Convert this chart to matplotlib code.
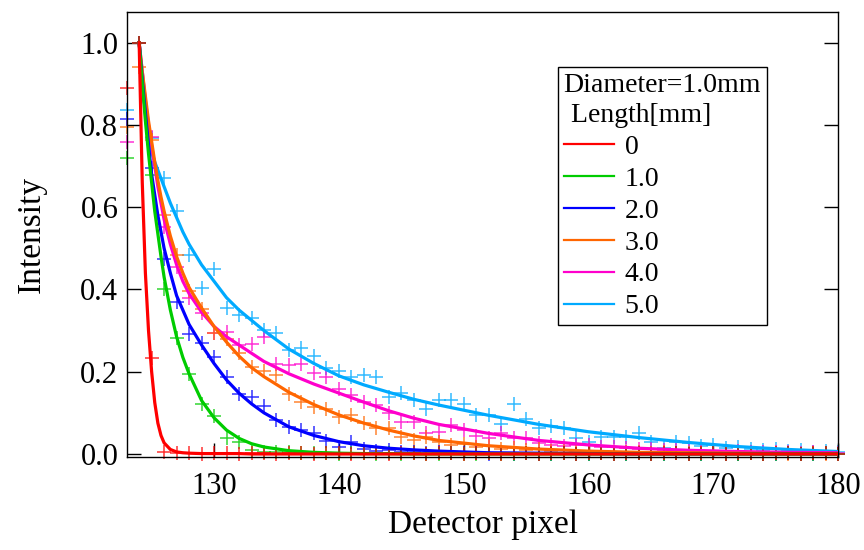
import matplotlib
matplotlib.use("Agg")
import matplotlib.pyplot as plt
from matplotlib.lines import Line2D
from matplotlib.ticker import FormatStrFormatter

plt.rcParams["font.family"] = ["Liberation Serif", "DejaVu Serif"]

# ---------------------------------------------------------------- data
pixel = list(range(123, 181))

lengths = ["0", "1.0", "2.0", "3.0", "4.0", "5.0"]
colors = ["#FF0000", "#00CC00", "#0000FF", "#FF6600", "#FF00CC", "#00AAFF"]

pts_0 = [0.889, 1.000, 0.234, 0.004, 0.002, 0.003, 0.001, 0.002, 0.002, 0.001,
         0.003, 0.002, 0.001, 0.002, 0.002, 0.001, 0.003, 0.002, 0.001, 0.002,
         0.002, 0.001, 0.002, 0.003, 0.001, 0.002, 0.002, 0.001, 0.002, 0.002,
         0.001, 0.003, 0.002, 0.001, 0.002, 0.002, 0.001, 0.002, 0.003, 0.001,
         0.002, 0.002, 0.001, 0.002, 0.002, 0.001, 0.003, 0.002, 0.001, 0.002,
         0.002, 0.001, 0.002, 0.002, 0.001, 0.002, 0.002, 0.001]
pts_1 = [0.720, 1.000, 0.678, 0.400, 0.281, 0.195, 0.121, 0.093, 0.040, 0.030,
         0.010, 0.006, 0.004, 0.005, 0.002, 0.003, 0.002, 0.001, 0.002, 0.002,
         0.001, 0.002, 0.001, 0.002, 0.001, 0.001, 0.002, 0.001, 0.001, 0.002,
         0.001, 0.001, 0.002, 0.001, 0.001, 0.002, 0.001, 0.001, 0.002, 0.001,
         0.001, 0.002, 0.001, 0.001, 0.002, 0.001, 0.001, 0.002, 0.001, 0.001,
         0.002, 0.001, 0.001, 0.002, 0.001, 0.001, 0.002, 0.001]
pts_2 = [0.815, 1.000, 0.695, 0.473, 0.370, 0.292, 0.269, 0.237, 0.188, 0.146,
         0.139, 0.117, 0.083, 0.066, 0.058, 0.052, 0.032, 0.018, 0.028, 0.011,
         0.007, 0.009, 0.004, 0.006, 0.003, 0.004, 0.002, 0.003, 0.002, 0.001,
         0.002, 0.001, 0.002, 0.001, 0.001, 0.002, 0.001, 0.001, 0.002, 0.001,
         0.001, 0.002, 0.001, 0.001, 0.002, 0.001, 0.001, 0.002, 0.001, 0.001,
         0.002, 0.001, 0.001, 0.002, 0.001, 0.001, 0.002, 0.001]
pts_3 = [0.796, 0.940, 0.763, 0.581, 0.484, 0.397, 0.352, 0.295, 0.279, 0.245,
         0.211, 0.203, 0.192, 0.147, 0.127, 0.115, 0.109, 0.091, 0.095, 0.075,
         0.062, 0.062, 0.042, 0.034, 0.042, 0.030, 0.022, 0.025, 0.018, 0.020,
         0.012, 0.015, 0.010, 0.012, 0.008, 0.010, 0.006, 0.008, 0.005, 0.006,
         0.004, 0.005, 0.003, 0.004, 0.002, 0.003, 0.002, 0.003, 0.002, 0.001,
         0.002, 0.001, 0.002, 0.001, 0.001, 0.002, 0.001, 0.001]
pts_4 = [0.759, 1.000, 0.770, 0.553, 0.455, 0.379, 0.342, 0.293, 0.297, 0.265,
         0.267, 0.284, 0.220, 0.216, 0.220, 0.198, 0.188, 0.157, 0.143, 0.127,
         0.119, 0.100, 0.078, 0.078, 0.050, 0.054, 0.070, 0.058, 0.044, 0.038,
         0.050, 0.040, 0.038, 0.026, 0.022, 0.020, 0.021, 0.022, 0.016, 0.018,
         0.015, 0.012, 0.013, 0.010, 0.009, 0.010, 0.007, 0.008, 0.006, 0.007,
         0.005, 0.006, 0.004, 0.005, 0.003, 0.004, 0.003, 0.003]
pts_5 = [0.837, 1.000, 0.768, 0.670, 0.592, 0.484, 0.403, 0.451, 0.354, 0.338,
         0.330, 0.301, 0.293, 0.253, 0.257, 0.238, 0.208, 0.203, 0.187, 0.192,
         0.186, 0.139, 0.148, 0.131, 0.109, 0.131, 0.131, 0.122, 0.095, 0.095,
         0.074, 0.122, 0.084, 0.062, 0.068, 0.062, 0.038, 0.030, 0.042, 0.042,
         0.042, 0.050, 0.030, 0.014, 0.030, 0.026, 0.020, 0.022, 0.014, 0.016,
         0.012, 0.010, 0.012, 0.008, 0.009, 0.006, 0.007, 0.005]

# fitted curves
fit_x = [124, 124.25, 124.5, 124.75, 125, 125.25, 125.5, 125.75, 126, 126.5,
         127, 127.5, 128, 129, 130, 131, 132, 133, 134, 136,
         138, 140, 142, 144, 146, 148, 152, 156, 160, 164,
         168, 172, 176, 180]
fit_0 = [1.0, 0.66, 0.44, 0.30, 0.20, 0.125, 0.075, 0.045, 0.027, 0.011,
         0.005, 0.003, 0.002, 0.001, 0.001, 0.001, 0.001, 0.0, 0.0, 0.0,
         0.0, 0.0, 0.0, 0.0, 0.0, 0.0, 0.0, 0.0, 0.0, 0.0,
         0.0, 0.0, 0.0, 0.0]
fit_1 = [1.0, 0.90, 0.81, 0.73, 0.66, 0.59, 0.535, 0.48, 0.43, 0.35,
         0.285, 0.235, 0.195, 0.13, 0.088, 0.058, 0.038, 0.025, 0.017, 0.008,
         0.004, 0.002, 0.001, 0.001, 0.0, 0.0, 0.0, 0.0, 0.0, 0.0,
         0.0, 0.0, 0.0, 0.0]
fit_2 = [1.0, 0.91, 0.83, 0.75, 0.68, 0.63, 0.58, 0.54, 0.50, 0.44,
         0.385, 0.35, 0.315, 0.265, 0.22, 0.18, 0.148, 0.122, 0.10, 0.066,
         0.045, 0.03, 0.02, 0.014, 0.01, 0.007, 0.003, 0.002, 0.001, 0.0,
         0.0, 0.0, 0.0, 0.0]
fit_3 = [1.0, 0.93, 0.87, 0.81, 0.76, 0.71, 0.665, 0.625, 0.59, 0.53,
         0.48, 0.44, 0.405, 0.355, 0.31, 0.272, 0.238, 0.21, 0.188, 0.15,
         0.12, 0.095, 0.075, 0.058, 0.044, 0.033, 0.02, 0.012, 0.007, 0.004,
         0.003, 0.002, 0.001, 0.001]
fit_4 = [1.0, 0.93, 0.86, 0.80, 0.75, 0.70, 0.65, 0.61, 0.57, 0.51,
         0.46, 0.42, 0.39, 0.345, 0.31, 0.285, 0.265, 0.245, 0.225, 0.195,
         0.17, 0.148, 0.126, 0.105, 0.087, 0.072, 0.05, 0.033, 0.022, 0.014,
         0.009, 0.006, 0.004, 0.003]
fit_5 = [1.0, 0.91, 0.83, 0.77, 0.735, 0.71, 0.69, 0.67, 0.65, 0.61,
         0.575, 0.54, 0.51, 0.46, 0.42, 0.38, 0.35, 0.325, 0.30, 0.255,
         0.22, 0.19, 0.168, 0.15, 0.133, 0.119, 0.094, 0.072, 0.054, 0.04,
         0.028, 0.018, 0.011, 0.006]

points = [pts_0, pts_1, pts_2, pts_3, pts_4, pts_5]
fits = [fit_0, fit_1, fit_2, fit_3, fit_4, fit_5]

# ---------------------------------------------------------------- figure
fig = plt.figure(figsize=(8.64, 5.5), dpi=100)
ax = fig.add_axes([0.1466, 0.1691, 0.8237, 0.8096])

# markers first, longest length at the back, red on top
for i in reversed(range(len(lengths))):
    ax.plot(pixel, points[i], ls="none", marker="+", ms=10, mew=1.1,
            color=colors[i], alpha=0.8, zorder=2, clip_on=False)
for i in reversed(range(len(lengths))):
    ax.plot(fit_x, fits[i], color=colors[i], lw=2.3, zorder=3)

ax.set_xlim(123, 180)
ax.set_ylim(-0.0073, 1.0754)
ax.set_xticks([130, 140, 150, 160, 170, 180])
ax.set_yticks([0.0, 0.2, 0.4, 0.6, 0.8, 1.0])
ax.yaxis.set_major_formatter(FormatStrFormatter("%.1f"))
ax.tick_params(direction="in", length=10, width=1, labelsize=22, pad=6,
               right=True, top=False, colors="black")
ax.tick_params(axis="x", pad=11)
for s in ax.spines.values():
    s.set_linewidth(1.0)

ax.set_xlabel("Detector pixel", fontsize=24)
ax.set_ylabel("Intensity", fontsize=24)
ax.xaxis.set_label_coords(0.5, -0.118)
ax.yaxis.set_label_coords(-0.112, 0.5)

handles = [Line2D([], [], color=c, lw=1.6) for c in colors]
leg = ax.legend(handles, lengths, title="Diameter=1.0mm\n Length[mm]",
                loc="upper left", bbox_to_anchor=(558 / 864, 1 - 67 / 550),
                bbox_transform=fig.transFigure, borderaxespad=0,
                fontsize=20, title_fontsize=20, alignment="left",
                frameon=True, fancybox=False, framealpha=1, edgecolor="black",
                handlelength=1.8, handletextpad=0.4, labelspacing=0.23,
                borderpad=0.2)
leg.get_frame().set_linewidth(1.0)
leg.get_title().set_linespacing(1.3)
leg.set_zorder(5)

fig.savefig("out.png", dpi=100)
